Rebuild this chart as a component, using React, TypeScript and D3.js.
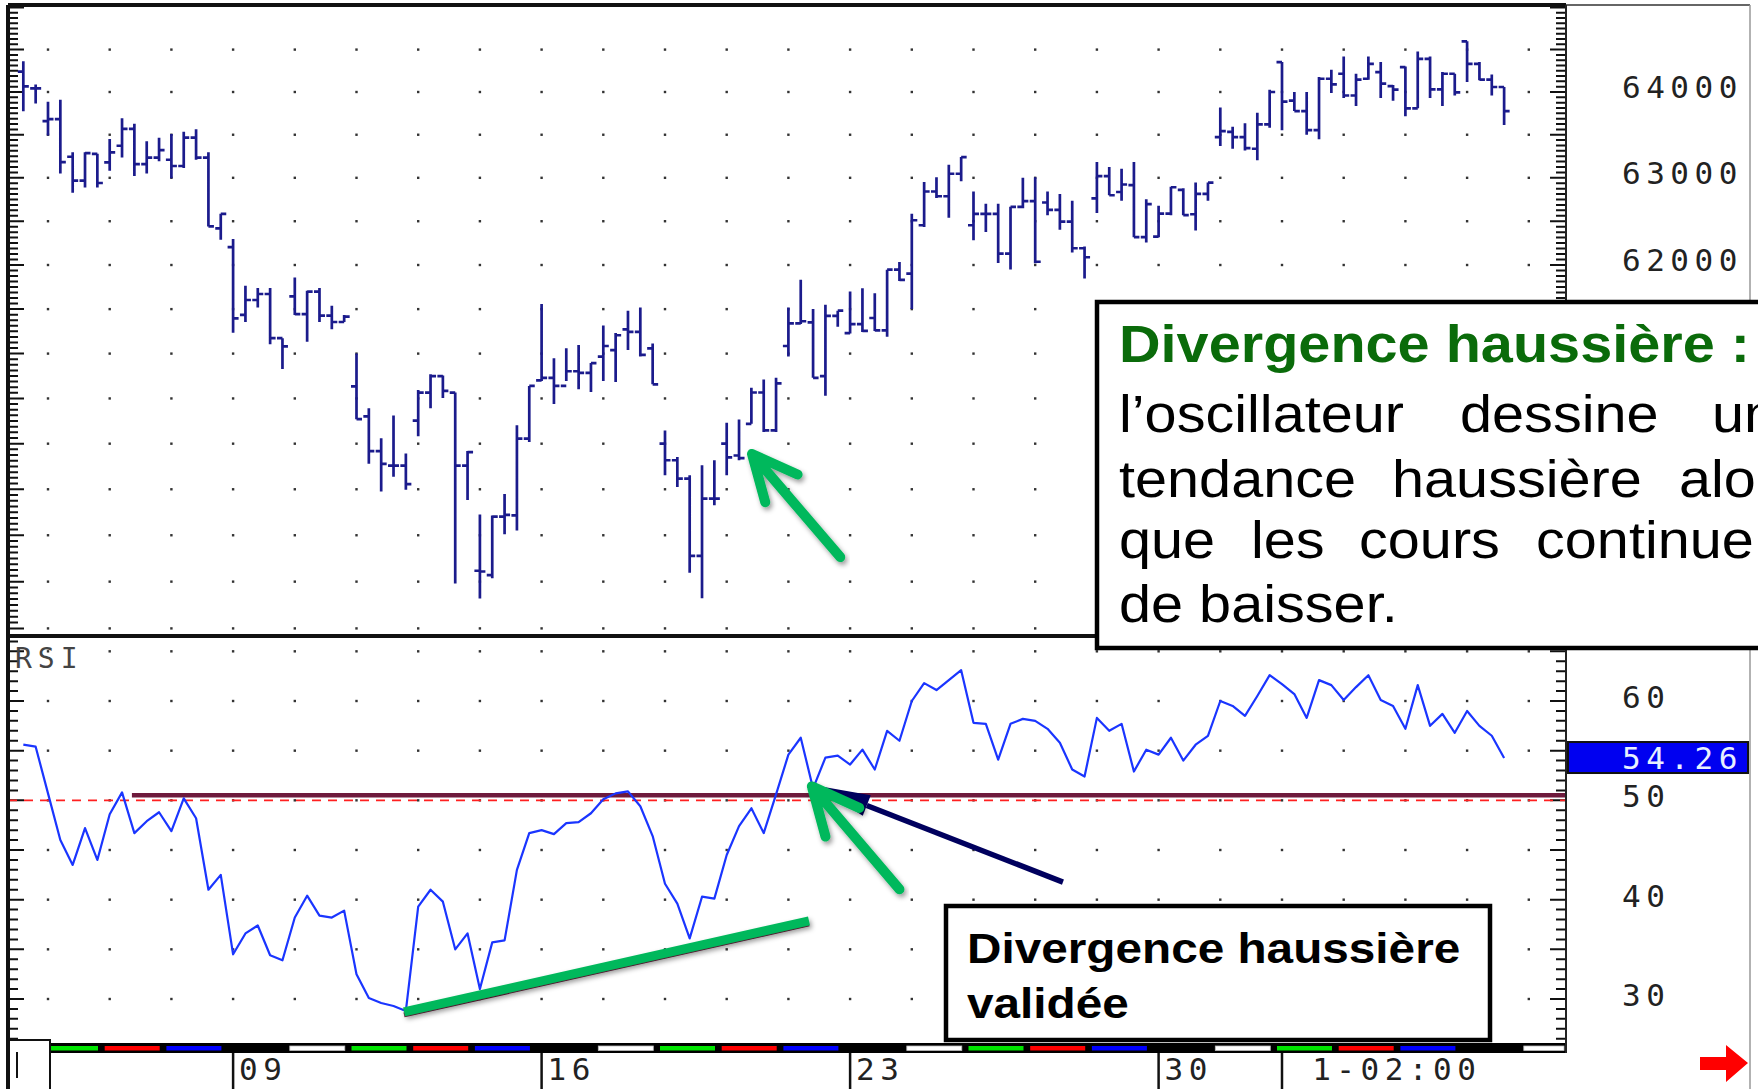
import React from 'react';
import * as d3 from 'd3';

// price bars, 5 bars per trading day
const opens = [64239, 64043, 63659, 63682, 63244, 62968, 63278, 63179, 63372, 63568, 63158, 63235, 63209, 63137, 63466, 63235, 62418, 62203, 61435, 61603, 61671, 61173, 61645, 61443, 61697, 61427, 61355, 60634, 60302, 59919, 59758, 59758, 60254, 60565, 60748, 60565, 59758, 58617, 58569, 59202, 59215, 60055, 60700, 60730, 60639, 60803, 60785, 60967, 61040, 61272, 61243, 61059, 60000, 59818, 59617, 58777, 59398, 60000, 59870, 60219, 60566, 60146, 61085, 61340, 61350, 60748, 61424, 61230, 61332, 61400, 61261, 61947, 61901, 62454, 62842, 62787, 63047, 62454, 62585, 62585, 62130, 62665, 62730, 62715, 62631, 62496, 62191, 62763, 63019, 62836, 62916, 62317, 62324, 62588, 62861, 62580, 62814, 63473, 63533, 63473, 63337, 63622, 64352, 63898, 63776, 63553, 64156, 64215, 63959, 64156, 64234, 64070, 64293, 63809, 64391, 64031, 64215, 64598, 64332, 64145, 64059];
const highs = [64361, 64087, 63886, 63909, 63295, 63295, 63278, 63449, 63691, 63627, 63423, 63466, 63509, 63536, 63564, 63295, 62585, 62297, 61765, 61739, 61739, 61173, 61859, 61709, 61739, 61538, 61435, 61000, 60391, 60060, 60310, 59891, 60593, 60768, 60756, 60565, 59919, 59226, 59214, 59448, 60202, 60639, 61557, 60949, 61059, 61096, 60894, 61316, 61232, 61482, 61519, 61114, 60146, 59854, 59653, 59763, 59818, 60230, 60266, 60620, 60712, 60730, 61519, 61832, 61500, 61550, 61482, 61700, 61737, 61680, 61947, 62034, 62585, 62952, 63007, 63151, 63240, 62842, 62702, 62702, 62665, 63000, 63007, 62843, 62814, 62734, 62210, 63182, 63124, 63105, 63182, 62752, 62679, 62898, 62880, 62945, 62945, 63817, 63594, 63634, 63756, 64027, 64352, 64000, 64000, 64176, 64262, 64418, 64215, 64418, 64352, 64082, 64301, 64477, 64418, 64234, 64215, 64598, 64352, 64207, 64059];
const lows = [63773, 63864, 63491, 63051, 62827, 62887, 62887, 63081, 63235, 63021, 63051, 63192, 62996, 63115, 63209, 62440, 62289, 61235, 61355, 61517, 61105, 60829, 61435, 61133, 61355, 61274, 61355, 60270, 59778, 59476, 59637, 59496, 60081, 60391, 60504, 58480, 59383, 58319, 58536, 59012, 59051, 60018, 60693, 60438, 60693, 60602, 60573, 60693, 60682, 61040, 60967, 60657, 59653, 59526, 58595, 58321, 59325, 59653, 59818, 60219, 60128, 60128, 60967, 61332, 60730, 60529, 61300, 61225, 61243, 61254, 61188, 61817, 61500, 62435, 62768, 62540, 62960, 62282, 62378, 62023, 61950, 62650, 62019, 62569, 62401, 62141, 61848, 62595, 62799, 62734, 62317, 62256, 62317, 62569, 62569, 62393, 62734, 63368, 63337, 63318, 63202, 63581, 63553, 63776, 63500, 63446, 63988, 63931, 63837, 64145, 63931, 63898, 63715, 63809, 63931, 63837, 63959, 64117, 64137, 63959, 63614];
const closes = [64065, 64043, 63682, 63182, 62968, 63286, 62940, 63295, 63568, 63158, 63235, 63320, 63137, 63466, 63235, 62440, 62585, 61395, 61603, 61671, 61173, 61081, 61443, 61697, 61427, 61355, 61415, 60270, 59919, 59778, 59758, 59556, 60565, 60748, 60585, 59758, 59907, 58609, 59202, 59222, 60055, 60639, 60730, 60639, 60803, 60785, 60894, 61085, 61206, 61243, 60985, 60657, 59818, 59617, 58777, 59398, 59398, 59850, 59840, 60566, 60146, 60668, 61340, 61363, 60730, 61424, 61482, 61330, 61254, 61261, 61947, 61832, 62511, 62842, 62787, 63047, 63240, 62585, 62585, 62130, 62665, 62730, 62037, 62631, 62496, 62191, 62088, 63019, 62799, 62923, 62317, 62697, 62588, 62891, 62569, 62814, 62945, 63541, 63473, 63345, 63622, 64000, 63886, 63776, 63553, 64156, 64090, 63959, 64145, 64332, 64098, 64027, 63809, 64391, 64031, 64215, 63996, 64332, 64145, 64059, 63776];

// RSI, one value per bar
const rsi = [55.6, 55.4, 50.7, 46.0, 43.5, 47.2, 44.0, 48.6, 50.8, 46.7, 47.9, 48.8, 46.9, 50.2, 48.2, 41.0, 42.5, 34.5, 36.6, 37.4, 34.4, 33.9, 38.2, 40.4, 38.4, 38.2, 38.9, 32.5, 30.1, 29.6, 29.3, 28.8, 39.3, 41.0, 39.8, 35.0, 36.6, 31.0, 35.7, 35.9, 43.0, 46.7, 47.0, 46.6, 47.7, 47.8, 48.7, 50.1, 50.7, 50.9, 49.4, 46.4, 41.6, 39.6, 36.1, 40.3, 40.1, 44.5, 47.4, 49.2, 46.7, 50.6, 54.6, 56.3, 51.2, 54.3, 54.5, 53.6, 55.1, 53.1, 57.0, 56.0, 60.0, 61.8, 61.1, 62.1, 63.1, 57.8, 57.7, 54.1, 57.7, 58.2, 58.0, 57.2, 55.8, 53.1, 52.4, 58.3, 57.0, 57.7, 52.9, 55.1, 54.6, 56.3, 54.0, 55.6, 56.5, 60.0, 59.5, 58.5, 60.5, 62.6, 61.7, 60.7, 58.3, 62.1, 61.6, 60.1, 61.4, 62.6, 60.1, 59.5, 57.2, 61.6, 57.5, 58.7, 56.8, 59.0, 57.5, 56.5, 54.26];

const priceLabels = [64000, 63000, 62000];
const rsiLabels = [30, 40, 50, 60];
const dateLabels = ['09', '16', '23', '30', ' 1-02:00'];
const dateDays = [3, 8, 13, 18, 20];
const dayColors = ['#00e400', '#ff0000', '#0000ff', '', '#ffffff'];

// annotations, in bar index / value units
const resistance = { from: 18.45, to: 76, price: 61572 };
const support = { from: 34.4, to: 56.3, price: 58280 };
const priceArrow = { tail: [66.2, 58764], tip: [59.05, 59887] };
const rsiArrow = { tail: [71.0, 41.05], tip: [63.9, 51.4] };
const navyArrow = { tail: [84.25, 41.76], tip: [64.2, 51.5] };
const rsiTrend = { from: [30.85, 28.7], to: [63.67, 37.87] };
const rsiLevel = { from: 8.8, value: 50.5 };

const W = 1758, H = 1089;
const L = 8, R = 1566, TOP = 5, SEP = 636, BOT = 1043;

const dayX = d3.scaleLinear().domain([0, 24]).range([48, 1528.8]);
const barX = (i: number) => dayX((i - 2) / 5);
const priceY = d3.scaleLog().domain([62000, 64000]).range([265, 92]);
const rsiY = d3.scaleLinear().domain([30, 60]).range([999, 701]);

const MONO = '"DejaVu Sans Mono", "Liberation Mono", monospace';
const SANS = '"Liberation Sans", Arial, sans-serif';

function arrowPath(sx: number, sy: number, tx: number, ty: number, len: number, ang: number) {
  const a = Math.atan2(sy - ty, sx - tx);
  const w1 = [tx + len * Math.cos(a + ang), ty + len * Math.sin(a + ang)];
  const w2 = [tx + len * Math.cos(a - ang), ty + len * Math.sin(a - ang)];
  return `M${sx},${sy}L${tx},${ty}M${w1[0]},${w1[1]}L${tx},${ty}L${w2[0]},${w2[1]}`;
}

// body of the note box, justified and cut by the right edge as in the slide
const boxLines = [
  { y: 432, words: [['l’oscillateur', 1119], ['dessine', 1460], ['un', 1712]] },
  { y: 497, words: [['tendance', 1119], ['haussière', 1392], ['alo', 1679]] },
  { y: 558, words: [['que', 1119], ['les', 1251], ['cours', 1359], ['continue', 1536]] },
  { y: 622, words: [['de baisser.', 1119]] },
];

export default function App() {
  const bars = d3.range(highs.length);

  const barPath = bars.map(i => {
    const x = barX(i);
    return `M${x},${priceY(highs[i])}V${priceY(lows[i])}` +
      `M${x - 5.5},${priceY(opens[i])}H${x}M${x},${priceY(closes[i])}H${x + 5.5}`;
  }).join('');

  const rsiLine = d3.line<number>().x((_, i) => barX(i)).y(d => rsiY(d))(rsi) || '';

  const days = d3.range(0, 25);
  const priceRows = d3.range(58000, 64501, 500);
  const rsiRows = d3.range(30, 66, 5);

  // axis ticks
  const priceMinor = d3.range(58000, 65001, 62.5).filter(v => priceY(v) > TOP + 2 && priceY(v) < SEP - 2);
  const rsiMinor = d3.range(26, 67, 1).filter(v => rsiY(v) > SEP + 3 && rsiY(v) < BOT - 2);

  const tickPath = (ys: number[], major: (i: number) => boolean) =>
    ys.map((y, i) => {
      const big = major(i);
      return `M${L + 2},${y}H${L + (big ? 16 : 10)}M${R - (big ? 16 : 10)},${y}H${R}`;
    }).join('');

  const pArrowTail = [barX(priceArrow.tail[0]), priceY(priceArrow.tail[1])];
  const pArrowTip = [barX(priceArrow.tip[0]), priceY(priceArrow.tip[1])];
  const rArrowTail = [barX(rsiArrow.tail[0]), rsiY(rsiArrow.tail[1])];
  const rArrowTip = [barX(rsiArrow.tip[0]), rsiY(rsiArrow.tip[1])];
  const nTail = [barX(navyArrow.tail[0]), rsiY(navyArrow.tail[1])];
  const nTip = [barX(navyArrow.tip[0]), rsiY(navyArrow.tip[1])];
  const nAng = Math.atan2(nTail[1] - nTip[1], nTail[0] - nTip[0]);
  const headLen = 55, headW = 11;
  const nBase = [nTip[0] + headLen * Math.cos(nAng), nTip[1] + headLen * Math.sin(nAng)];
  const nHead = [
    nTip,
    [nBase[0] - headW * Math.sin(nAng), nBase[1] + headW * Math.cos(nAng)],
    [nBase[0] + headW * Math.sin(nAng), nBase[1] - headW * Math.cos(nAng)],
  ].map(p => p.join(',')).join(' ');

  const lastRsi = rsi[rsi.length - 1];

  return (
    <svg width={W} height={H} style={{ position: 'absolute', left: 0, top: 0, background: '#fff' }}>
      <defs>
        <filter id="sh" x="-10%" y="-60%" width="120%" height="320%">
          <feDropShadow dx="2" dy="3" stdDeviation="2.5" floodColor="#000" floodOpacity="0.4" />
        </filter>
        <clipPath id="plotClip"><rect x={L} y={TOP} width={R - L} height={BOT - TOP} /></clipPath>
        <clipPath id="pageClip"><rect x={0} y={0} width={W} height={H} /></clipPath>
      </defs>
      <rect x={0} y={0} width={W} height={H} fill="#fff" />

      {/* grid dots */}
      <g fill="#333">
        {days.map(k => priceRows.map(p => (
          <rect key={`p${k}-${p}`} x={dayX(k) - 1.2} y={priceY(p) - 1.2} width={2.4} height={2.4} />
        )))}
        {days.map(k => rsiRows.map(v => (
          <rect key={`r${k}-${v}`} x={dayX(k) - 1.2} y={rsiY(v) - 1.2} width={2.4} height={2.4} />
        )))}
      </g>

      {/* axis ticks */}
      <path d={tickPath(priceMinor.map(v => priceY(v)), i => priceMinor[i] % 500 === 0)} stroke="#111" strokeWidth={2} />
      <path d={tickPath(rsiMinor.map(v => rsiY(v)), i => rsiMinor[i] % 5 === 0)} stroke="#111" strokeWidth={2} />

      {/* RSI 50 dashed line */}
      <line x1={L} x2={R} y1={rsiY(50)} y2={rsiY(50)} stroke="#ff2020" strokeWidth={1.6} strokeDasharray="9 7" />
      {/* maroon level line */}
      <line x1={barX(rsiLevel.from)} x2={R} y1={rsiY(rsiLevel.value)} y2={rsiY(rsiLevel.value)} stroke="#6e1a3c" strokeWidth={4.5} />

      {/* price bars and RSI */}
      <g clipPath="url(#plotClip)">
        <path d={barPath} fill="none" stroke="#1b1b8c" strokeWidth={2.7} />
        <path d={rsiLine} fill="none" stroke="#1a35ff" strokeWidth={2.2} strokeLinejoin="round" />
      </g>

      {/* price annotations */}
      <line x1={barX(resistance.from)} x2={barX(resistance.to)} y1={priceY(resistance.price)} y2={priceY(resistance.price)}
        stroke="#000" strokeWidth={9} filter="url(#sh)" />
      <line x1={barX(support.from)} x2={barX(support.to)} y1={priceY(support.price)} y2={priceY(support.price)}
        stroke="#ff2a00" strokeWidth={8} filter="url(#sh)" />
      <path d={arrowPath(pArrowTail[0], pArrowTail[1], pArrowTip[0], pArrowTip[1], 50, 0.44)}
        fill="none" stroke="#00b85c" strokeWidth={10} strokeLinecap="round" strokeLinejoin="round" filter="url(#sh)" />

      {/* RSI annotations */}
      <line x1={barX(rsiTrend.from[0])} y1={rsiY(rsiTrend.from[1]) + 3} x2={barX(rsiTrend.to[0])} y2={rsiY(rsiTrend.to[1]) + 3}
        stroke="#6e1a3c" strokeWidth={5} />
      <line x1={barX(rsiTrend.from[0])} y1={rsiY(rsiTrend.from[1])} x2={barX(rsiTrend.to[0])} y2={rsiY(rsiTrend.to[1])}
        stroke="#00b85c" strokeWidth={9} filter="url(#sh)" />
      <line x1={nTail[0]} y1={nTail[1]} x2={nBase[0]} y2={nBase[1]} stroke="#00005e" strokeWidth={5.5} />
      <polygon points={nHead} fill="#00005e" />
      <path d={arrowPath(rArrowTail[0], rArrowTail[1], rArrowTip[0], rArrowTip[1], 52, 0.44)}
        fill="none" stroke="#00b85c" strokeWidth={10} strokeLinecap="round" strokeLinejoin="round" filter="url(#sh)" />

      {/* RSI title */}
      <text x={15} y={668} fontFamily={MONO} fontSize={28} letterSpacing={6} fill="#444">RSI</text>

      {/* bottom day strip */}
      <rect x={L} y={BOT} width={R - L} height={10} fill="#000" />
      {days.map(k => dayColors[k % 5] ? (
        <rect key={`d${k}`} x={Math.max(dayX(k) - 5, 50)} y={BOT + 3} width={Math.min(dayX(k) + 50, R - 2) - Math.max(dayX(k) - 5, 50)}
          height={4.5} fill={dayColors[k % 5]} stroke={dayColors[k % 5] === '#ffffff' ? '#bbb' : 'none'} strokeWidth={0.8} />
      ) : null)}
      {dateDays.map((k, i) => (
        <g key={`t${k}`}>
          <line x1={dayX(k)} x2={dayX(k)} y1={BOT + 10} y2={H} stroke="#111" strokeWidth={2.5} />
          <text x={dayX(k) + 6} y={1069} dominantBaseline="central" fontFamily={MONO} fontSize={31}
            letterSpacing={5.5} fill="#222" style={{ whiteSpace: 'pre' }}>{dateLabels[i]}</text>
        </g>
      ))}
      <rect x={L + 1} y={BOT - 3} width={41} height={H - BOT + 6} fill="#fff" stroke="#111" strokeWidth={2} />
      <line x1={17} x2={17} y1={1052} y2={1078} stroke="#111" strokeWidth={2} />

      {/* frame */}
      <line x1={L} x2={L} y1={TOP} y2={H} stroke="#111" strokeWidth={4} />
      <line x1={L} x2={R} y1={TOP} y2={TOP} stroke="#111" strokeWidth={4} />
      <line x1={R} x2={1750} y1={TOP} y2={TOP} stroke="#666" strokeWidth={2} />
      <line x1={L} x2={R} y1={SEP} y2={SEP} stroke="#111" strokeWidth={4} />
      <line x1={R} x2={R} y1={TOP} y2={BOT + 10} stroke="#222" strokeWidth={2} />
      <line x1={1750} x2={1750} y1={TOP} y2={H} stroke="#999" strokeWidth={1.5} />

      {/* right axis labels */}
      {priceLabels.map(p => (
        <text key={`pl${p}`} x={1622} y={priceY(p) - 5} dominantBaseline="central" fontFamily={MONO}
          fontSize={31} letterSpacing={5.5} fill="#222">{p}</text>
      ))}
      {rsiLabels.map(v => (
        <text key={`rl${v}`} x={1622} y={rsiY(v) - 4} dominantBaseline="central" fontFamily={MONO}
          fontSize={31} letterSpacing={5.5} fill="#222">{v}</text>
      ))}
      <rect x={1568} y={rsiY(lastRsi) - 16} width={180} height={31} fill="#0000f0" stroke="#111" strokeWidth={2} />
      <text x={1622} y={rsiY(lastRsi) - 0.5} dominantBaseline="central" fontFamily={MONO} fontSize={31}
        letterSpacing={5.5} fill="#e8f0ff">{lastRsi.toFixed(2)}</text>

      {/* red arrow */}
      <polygon points="1700,1057 1726,1057 1726,1045 1748,1063 1726,1082 1726,1070 1700,1070" fill="#ff0000" />

      {/* text box 1 */}
      <g clipPath="url(#pageClip)">
        <rect x={1097} y={302} width={800} height={346} fill="#fff" stroke="#000" strokeWidth={4.5} />
        <text transform="translate(1119,362) scale(1.13,1)" fontFamily={SANS} fontWeight="bold" fontSize={51} fill="#0a6b0a">
          Divergence haussière :
        </text>
        {boxLines.map(line => line.words.map(([w, x]) => (
          <text key={`${line.y}-${w}`} transform={`translate(${x},${line.y}) scale(1.13,1)`} fontFamily={SANS}
            fontSize={51} fill="#000">{w}</text>
        )))}
      </g>

      {/* text box 2 */}
      <rect x={946} y={906} width={544} height={134} fill="#fff" stroke="#000" strokeWidth={4.5} />
      <text transform="translate(967,963) scale(1.11,1)" fontFamily={SANS} fontWeight="bold" fontSize={43} fill="#000">
        Divergence haussière
      </text>
      <text transform="translate(967,1018) scale(1.11,1)" fontFamily={SANS} fontWeight="bold" fontSize={43} fill="#000">
        validée
      </text>
    </svg>
  );
}
